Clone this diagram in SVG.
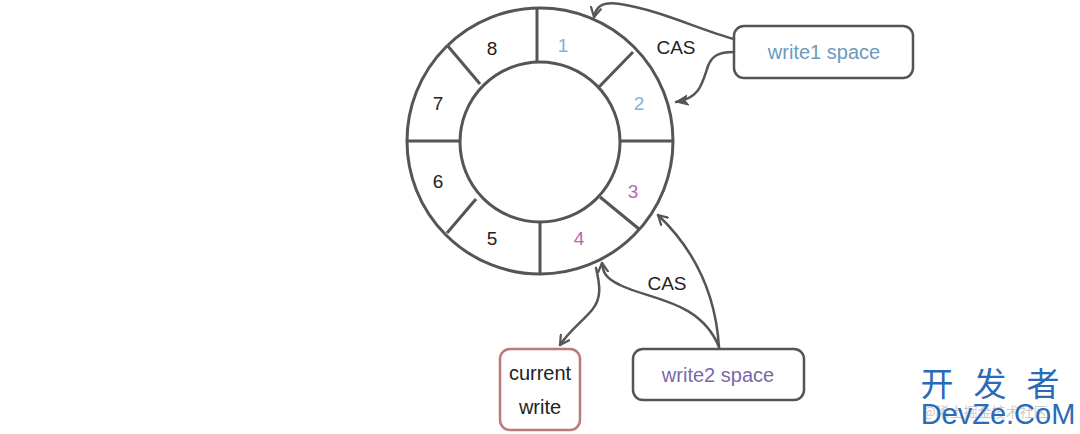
<svg xmlns="http://www.w3.org/2000/svg" width="1080" height="434" viewBox="0 0 1080 434">
<defs>
<marker id="ah" markerWidth="12" markerHeight="12" viewBox="0 0 12 12" refX="10" refY="6" orient="auto" markerUnits="userSpaceOnUse">
<path d="M1,1 L10,6 L1,11" fill="none" stroke="#555" stroke-width="2.2" stroke-linecap="round" stroke-linejoin="round"/>
</marker>
<marker id="ahf" markerWidth="14" markerHeight="12" viewBox="0 0 14 12" refX="12" refY="6" orient="auto" markerUnits="userSpaceOnUse">
<path d="M0,1 L12,6 L0,11 L3,6 z" fill="#555" stroke="#555" stroke-width="1" stroke-linejoin="round"/>
</marker>
</defs>
<style>
.ring{fill:none;stroke:#555;stroke-width:3}
.div{stroke:#555;stroke-width:3;fill:none}
.num{font-family:"Liberation Sans",Arial,sans-serif;font-size:19px;text-anchor:middle;dominant-baseline:central}
.lbl{font-family:"Liberation Sans",Arial,sans-serif;font-size:20px;text-anchor:middle;dominant-baseline:central;fill:#222}
.cas{font-family:"Liberation Sans",Arial,sans-serif;font-size:19px;text-anchor:middle;dominant-baseline:central;fill:#222}
.box{fill:#fff;stroke:#555;stroke-width:2.5}
.conn{fill:none;stroke:#555;stroke-width:2.5;stroke-linecap:round}
</style>
<rect width="1080" height="434" fill="#fff"/>
<g id="ring">
<circle class="ring" cx="540" cy="141" r="133"/>
<circle class="ring" cx="540" cy="142" r="80"/>
<line class="div" x1="537" y1="8" x2="537" y2="62"/>
<line class="div" x1="599" y1="87" x2="633" y2="52"/>
<line class="div" x1="620" y1="141" x2="673" y2="141"/>
<line class="div" x1="600" y1="197" x2="639" y2="229"/>
<line class="div" x1="540" y1="222" x2="540" y2="274"/>
<line class="div" x1="476" y1="199" x2="447" y2="233"/>
<line class="div" x1="407" y1="141" x2="460" y2="141"/>
<line class="div" x1="447" y1="45" x2="480" y2="84"/>
<text class="num" x="563" y="45" fill="#7fb3d9">1</text>
<text class="num" x="639" y="103" fill="#7fb3d9">2</text>
<text class="num" x="633" y="191" fill="#b56aa6">3</text>
<text class="num" x="579" y="238" fill="#b56aa6">4</text>
<text class="num" x="492" y="238" fill="#222">5</text>
<text class="num" x="438" y="181" fill="#222">6</text>
<text class="num" x="438" y="103" fill="#222">7</text>
<text class="num" x="492" y="48" fill="#222">8</text>
</g>
<g id="write1">
<rect class="box" x="734" y="26" width="179" height="52" rx="10"/>
<text class="lbl" x="824" y="52" style="fill:#6a9bbd">write1 space</text>
</g>
<g id="write2">
<rect class="box" x="633" y="349" width="171" height="51" rx="10"/>
<text class="lbl" x="718" y="375" style="fill:#7a68a8">write2 space</text>
</g>
<g id="current">
<rect class="box" x="500" y="349" width="80" height="81" rx="10" style="stroke:#b97a7a"/>
<text class="lbl" x="540" y="373">current</text>
<text class="lbl" x="540" y="407">write</text>
</g>
<g id="connectors">
<path class="conn" marker-end="url(#ah)" d="M734,39 C700,30 660,10 620,4 C600,1 596,8 594,17"/>
<path class="conn" marker-end="url(#ahf)" d="M734,52 C718,52 712,56 708,66 C702,84 700,98 676,102"/>
<path class="conn" marker-end="url(#ah)" d="M719,347 C716,300 700,255 658,215"/>
<path class="conn" marker-end="url(#ah)" d="M719,347 C700,300 650,300 620,285 C605,278 603,272 602,263"/>
<path class="conn" marker-end="url(#ah)" d="M596,268 C600,285 602,298 592,310 C582,322 570,330 560,345"/>
<text class="cas" x="676" y="47">CAS</text>
<text class="cas" x="667" y="283">CAS</text>
</g>
<g id="watermark">
<text x="1000" y="396" font-family="'Noto Sans CJK SC',sans-serif" font-size="33" fill="#2a6bb8" text-anchor="middle" letter-spacing="20">开发者</text>
<text x="985" y="417" font-family="'Noto Sans CJK SC',sans-serif" font-size="14" fill="#999" opacity="0.5" text-anchor="middle">@稀土掘金技术社区</text>
<text x="998" y="424" font-family="'Liberation Sans',Arial,sans-serif" font-size="29" fill="#2a6bb8" text-anchor="middle">DevZe.CoM</text>
</g>
</svg>
